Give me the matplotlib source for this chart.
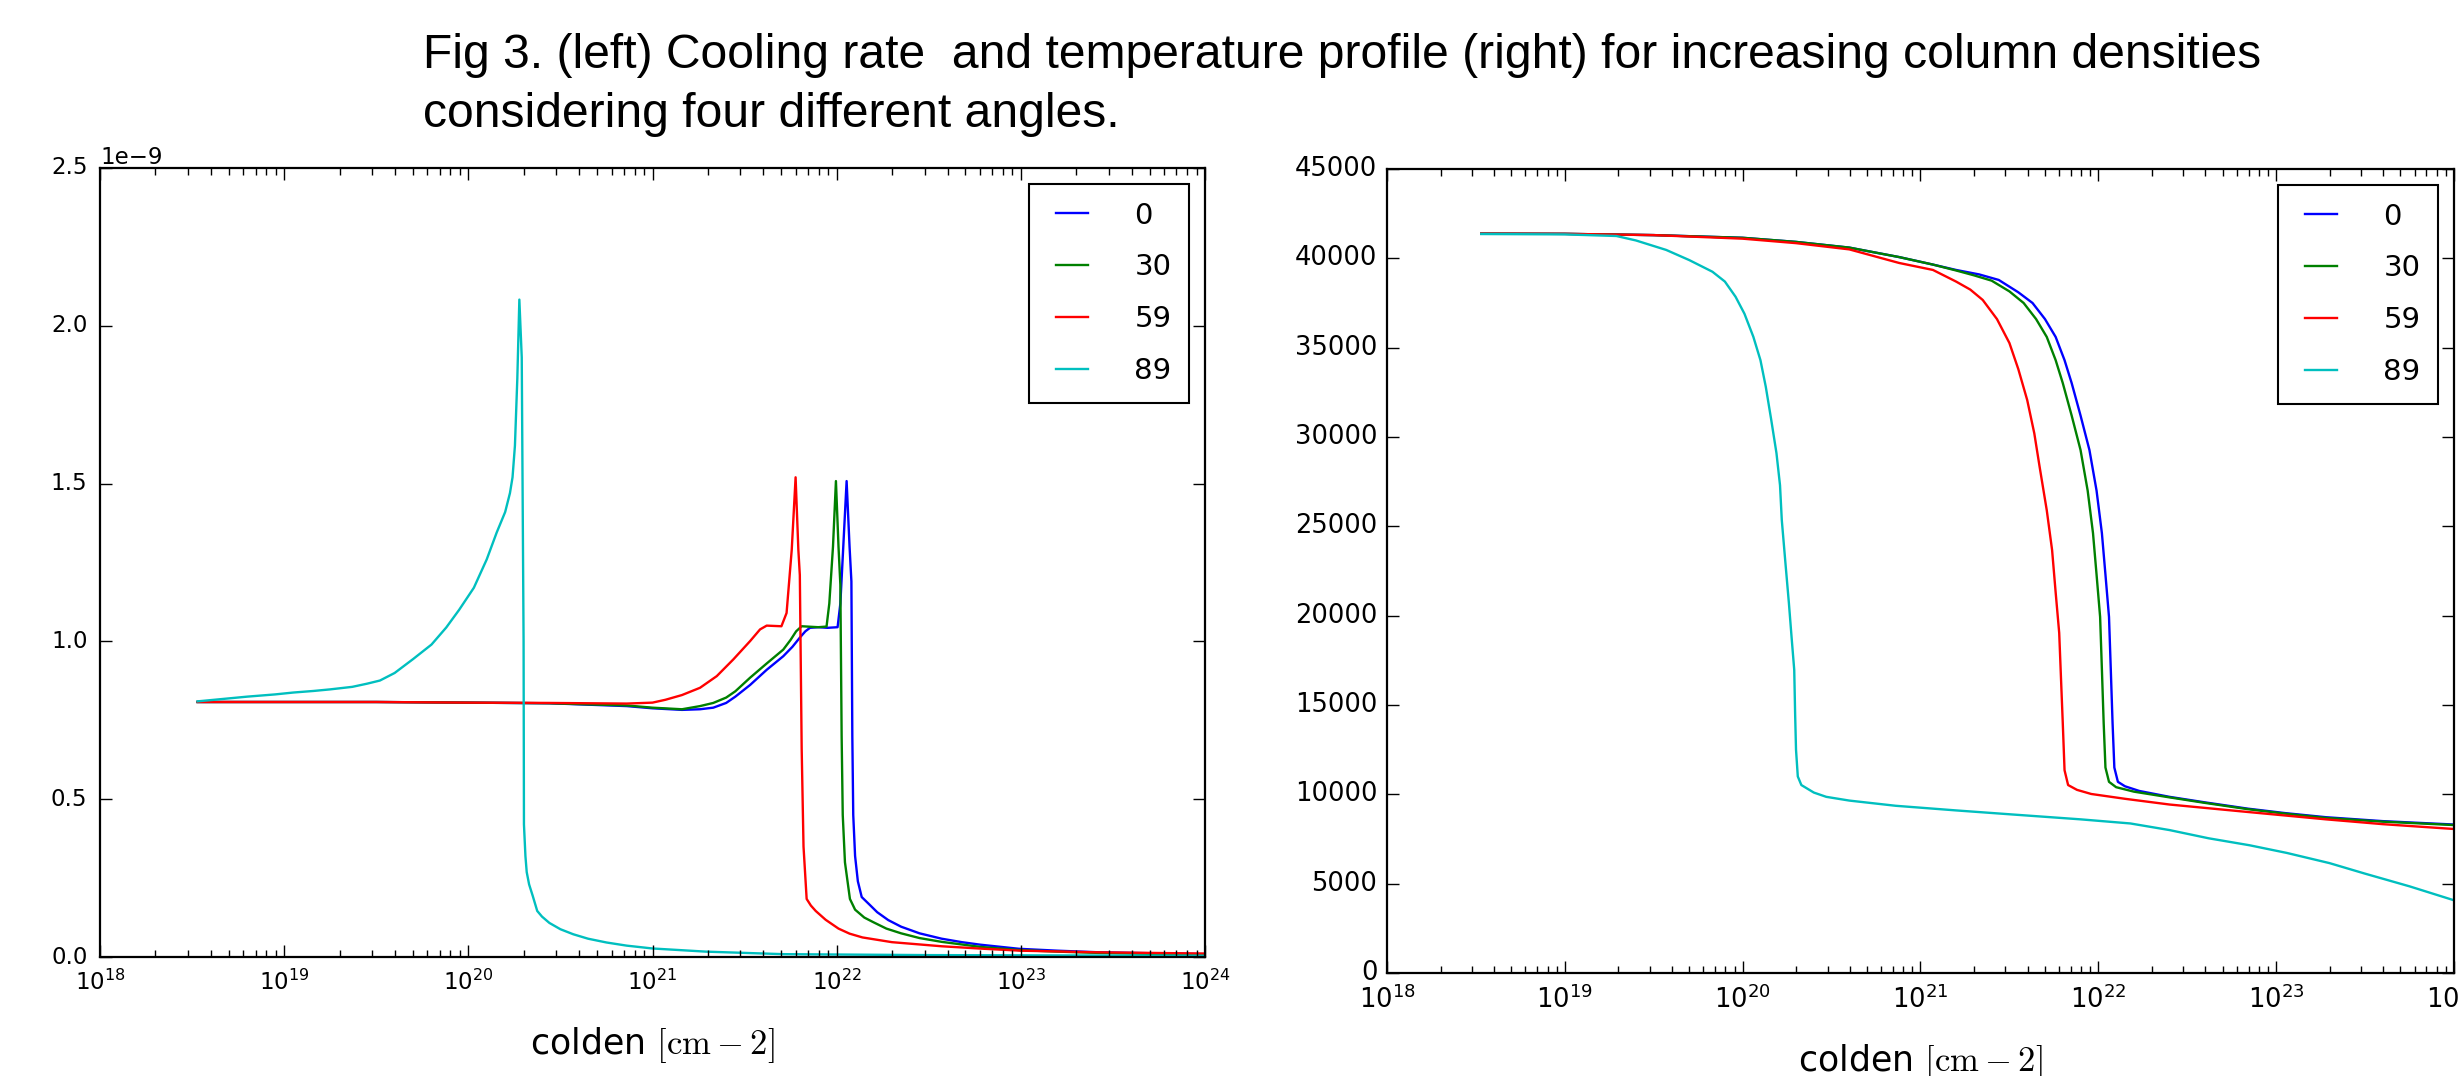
import numpy as np
import matplotlib
matplotlib.use('Agg')
import matplotlib.pyplot as plt
from matplotlib.ticker import MultipleLocator

plt.style.use('classic')
plt.rcParams['mathtext.fontset'] = 'cm'
plt.rcParams['font.family'] = 'DejaVu Sans'

# angles (deg) and line colours (classic b, g, r, c)
angles = ['0', '30', '59', '89']
colours = ['b', 'g', 'r', 'c']

# ---- left panel: cooling rate (1e-9) vs log10(colden) ----
lg_cool_0 = [18.53, 19.5, 20.0, 20.44, 20.86, 21.0, 21.16, 21.258, 21.33, 21.40, 21.45, 21.53,
             21.62, 21.71, 21.76, 21.80, 21.83, 21.855, 21.9, 21.95, 22.005, 22.02, 22.035,
             22.054, 22.07, 22.08, 22.085, 22.09, 22.10, 22.115, 22.136, 22.18, 22.22, 22.28,
             22.35, 22.45, 22.57, 22.68, 22.78, 22.99, 23.2, 23.42, 23.7, 24.0]
cool_0 = [0.808, 0.808, 0.806, 0.804, 0.795, 0.788, 0.783, 0.785, 0.790, 0.805, 0.825, 0.862,
          0.91, 0.953, 0.983, 1.012, 1.032, 1.043, 1.045, 1.043, 1.045, 1.12, 1.29,
          1.508, 1.30, 1.19, 0.70, 0.45, 0.32, 0.24, 0.19, 0.165, 0.142, 0.117,
          0.096, 0.075, 0.058, 0.047, 0.039, 0.026, 0.020, 0.015, 0.012, 0.009]

lg_cool_30 = [18.53, 19.5, 20.0, 20.44, 20.86, 21.0, 21.16, 21.258, 21.33, 21.40, 21.45, 21.53,
              21.62, 21.71, 21.75, 21.78, 21.81, 21.9, 21.945, 21.96, 21.98, 21.996, 22.01,
              22.02, 22.027, 22.033, 22.045, 22.072, 22.10, 22.15, 22.2, 22.27, 22.35, 22.45,
              22.57, 22.78, 22.99, 23.2, 23.42, 23.7, 24.0]
cool_30 = [0.808, 0.808, 0.806, 0.804, 0.797, 0.790, 0.785, 0.795, 0.805, 0.822, 0.842, 0.885,
           0.93, 0.974, 1.005, 1.032, 1.048, 1.045, 1.047, 1.12, 1.30, 1.508, 1.30,
           1.18, 0.70, 0.45, 0.30, 0.184, 0.15, 0.125, 0.11, 0.09, 0.075, 0.06,
           0.048, 0.032, 0.022, 0.017, 0.013, 0.010, 0.008]

lg_cool_59 = [18.53, 19.5, 20.0, 20.44, 20.86, 21.0, 21.07, 21.16, 21.258, 21.349, 21.439,
              21.53, 21.584, 21.62, 21.70, 21.728, 21.756, 21.777, 21.792, 21.80, 21.81, 21.82,
              21.837, 21.86, 21.886, 21.94, 22.01, 22.07, 22.14, 22.3, 22.57, 22.8, 23.0, 23.4,
              24.0]
cool_59 = [0.808, 0.808, 0.806, 0.805, 0.803, 0.806, 0.815, 0.83, 0.853, 0.89, 0.943,
           1.001, 1.038, 1.05, 1.048, 1.09, 1.29, 1.52, 1.29, 1.21, 0.66, 0.35,
           0.184, 0.163, 0.146, 0.118, 0.09, 0.074, 0.062, 0.047, 0.034, 0.026, 0.020, 0.015,
           0.011]

lg_cool_89 = [18.53, 18.8, 18.95, 19.05, 19.16, 19.25, 19.37, 19.45, 19.52, 19.6, 19.70, 19.8,
              19.88, 19.95, 20.03, 20.1, 20.154, 20.2, 20.226, 20.24, 20.253, 20.266, 20.277,
              20.29, 20.30, 20.302, 20.31, 20.317, 20.33, 20.35, 20.374, 20.40, 20.44, 20.5,
              20.57, 20.65, 20.75, 20.86, 21.0, 21.29, 21.71, 22.5, 24.0]
cool_89 = [0.810, 0.825, 0.832, 0.838, 0.843, 0.848, 0.856, 0.866, 0.876, 0.900, 0.944, 0.99,
           1.044, 1.10, 1.17, 1.26, 1.345, 1.41, 1.47, 1.52, 1.62, 1.833, 2.083,
           1.90, 1.0, 0.42, 0.32, 0.269, 0.23, 0.193, 0.146, 0.128, 0.108, 0.088,
           0.072, 0.058, 0.046, 0.036, 0.027, 0.017, 0.009, 0.006, 0.004]

# ---- right panel: temperature (K) vs log10(colden) ----
lg_temp_0 = [18.53, 19.0, 19.5, 20.0, 20.3, 20.6, 20.88, 21.07, 21.2, 21.33, 21.44, 21.55,
             21.63, 21.70, 21.76, 21.81, 21.85, 21.90, 21.95, 21.99, 22.02, 22.04, 22.06,
             22.07, 22.08, 22.09, 22.11, 22.15, 22.23, 22.40, 22.6, 22.84, 23.05, 23.28,
             23.6, 24.0]
temp_0 = [41380, 41370, 41300, 41150, 40920, 40600, 40070, 39650, 39350, 39100, 38790, 38100,
          37500, 36600, 35600, 34300, 33020, 31200, 29270, 27000, 24620, 22300, 19930,
          17000, 14000, 11500, 10700, 10450, 10190, 9860, 9550, 9200, 8950, 8720,
          8500, 8310]

lg_temp_30 = [18.53, 19.0, 19.5, 20.0, 20.3, 20.6, 20.88, 21.07, 21.2, 21.30, 21.40, 21.50,
              21.58, 21.65, 21.71, 21.76, 21.80, 21.85, 21.90, 21.94, 21.97, 21.99, 22.01,
              22.02, 22.03, 22.04, 22.06, 22.10, 22.20, 22.40, 22.6, 22.84, 23.05, 23.28,
              23.6, 24.0]
temp_30 = [41380, 41370, 41300, 41150, 40920, 40600, 40070, 39650, 39320, 39050, 38750, 38150,
           37500, 36600, 35600, 34300, 33020, 31200, 29270, 27000, 24620, 22300, 19930,
           17000, 14000, 11500, 10700, 10400, 10150, 9830, 9520, 9170, 8920, 8680,
           8470, 8280]

lg_temp_59 = [18.53, 19.0, 19.5, 20.0, 20.3, 20.6, 20.88, 21.07, 21.2, 21.28, 21.35, 21.43,
              21.50, 21.55, 21.60, 21.64, 21.67, 21.71, 21.74, 21.76, 21.78, 21.79, 21.80,
              21.81, 21.83, 21.88, 21.96, 22.15, 22.40, 22.8, 23.28, 23.6, 24.0]
temp_59 = [41380, 41370, 41300, 41100, 40850, 40500, 39740, 39350, 38700, 38250, 37670, 36600,
           35260, 33800, 32070, 30200, 28320, 25900, 23670, 21300, 19030, 16500, 14000,
           11350, 10520, 10250, 10020, 9750, 9430, 9050, 8600, 8330, 8060]

lg_temp_89 = [18.53, 19.0, 19.29, 19.4, 19.57, 19.7, 19.83, 19.9, 19.96, 20.01, 20.06, 20.1,
              20.13, 20.16, 20.19, 20.21, 20.22, 20.24, 20.26, 20.275, 20.29, 20.295, 20.30,
              20.31, 20.33, 20.40, 20.47, 20.6, 20.86, 21.2, 21.52, 21.9, 22.18, 22.4, 22.62,
              22.85, 23.06, 23.3, 23.50, 23.75, 24.0]
temp_89 = [41360, 41340, 41250, 41000, 40470, 39900, 39250, 38700, 37850, 36900, 35610, 34300,
           32810, 31000, 29100, 27300, 25350, 23000, 20700, 18800, 16960, 14500, 12500,
           11000, 10520, 10100, 9860, 9650, 9360, 9100, 8870, 8600, 8370, 8000, 7540,
           7150, 6720, 6150, 5560, 4850, 4070]

cool_x = [lg_cool_0, lg_cool_30, lg_cool_59, lg_cool_89]
cool_y = [cool_0, cool_30, cool_59, cool_89]
temp_x = [lg_temp_0, lg_temp_30, lg_temp_59, lg_temp_89]
temp_y = [temp_0, temp_30, temp_59, temp_89]

title_1 = 'Fig 3. (left) Cooling rate  and temperature profile (right) for increasing column densities'
title_2 = 'considering four different angles.'
xlabel = r'colden $[\mathrm{cm}-2]$'

W, H = 2459, 1076
fig = plt.figure(figsize=(W / 100, H / 100), dpi=100, facecolor='white')


def style_axes(ax, tick_fs, ypad):
    ax.set_xscale('log')
    ax.set_xlim(1e18, 1e24)
    ax.tick_params(which='both', direction='in', top=True, right=True, width=1)
    ax.tick_params(which='major', length=8.5)
    ax.tick_params(which='minor', length=5)
    ax.tick_params(axis='x', which='major', pad=9, labelsize=tick_fs)
    ax.tick_params(axis='y', which='major', pad=ypad, labelsize=tick_fs)
    for s in ax.spines.values():
        s.set_linewidth(1.6)


def add_legend(ax):
    leg = ax.legend(loc='upper right', fontsize=21, handlelength=1.7, handletextpad=1.3,
                    labelspacing=0.82, borderpad=0.6, borderaxespad=0.55, frameon=True,
                    fancybox=False)
    leg.get_frame().set_edgecolor('black')
    leg.get_frame().set_linewidth(1.5)


# left panel
ax1 = fig.add_axes([100 / W, 1 - 957 / H, 1105 / W, 789 / H])
for lx, v, c, a in zip(cool_x, cool_y, colours, angles):
    ax1.plot(10 ** np.array(lx), np.array(v) * 1e-9, color=c, lw=1.7, label=a)
style_axes(ax1, 16.5, 9)
ax1.set_ylim(0, 2.5e-9)
ax1.yaxis.set_major_locator(MultipleLocator(0.5e-9))
ax1.yaxis.get_offset_text().set_fontsize(16.5)
ax1.set_xlabel(xlabel, fontsize=25, labelpad=22)
add_legend(ax1)

# right panel
ax2 = fig.add_axes([1387 / W, 1 - 973 / H, 1067 / W, 804 / H])
for lx, t, c, a in zip(temp_x, temp_y, colours, angles):
    ax2.plot(10 ** np.array(lx), t, color=c, lw=1.7, label=a)
style_axes(ax2, 18.5, 7)
ax2.set_ylim(0, 45000)
ax2.yaxis.set_major_locator(MultipleLocator(5000))
ax2.set_xlabel(xlabel, fontsize=25, labelpad=20)
add_legend(ax2)

# caption
fig.text(423 / W, 1 - 68 / H, title_1, fontsize=34.6, family='Liberation Sans',
         ha='left', va='baseline')
fig.text(423 / W, 1 - 127 / H, title_2, fontsize=34.6, family='Liberation Sans',
         ha='left', va='baseline')

fig.savefig('out.png', dpi=100, facecolor='white')
